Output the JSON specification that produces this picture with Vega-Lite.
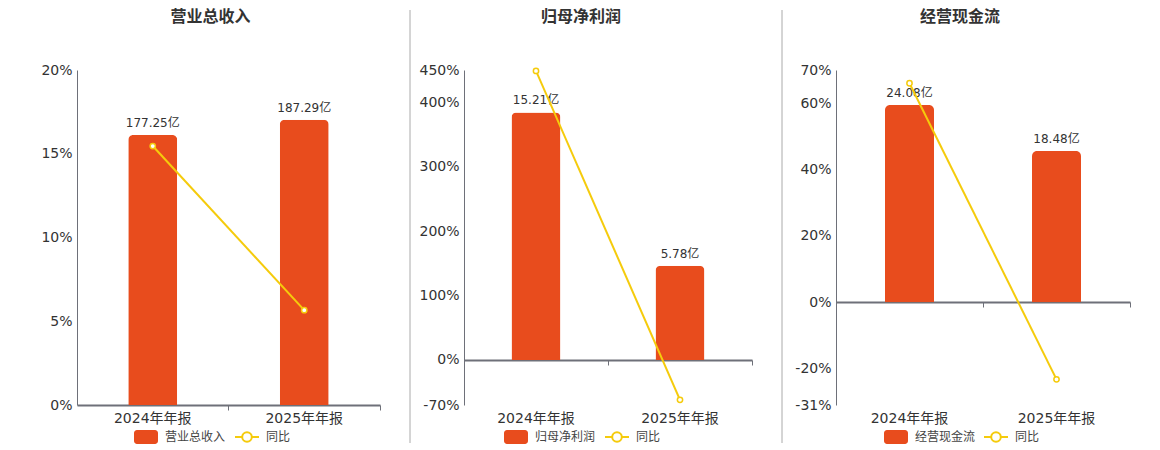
{
  "$schema": "https://vega.github.io/schema/vega-lite/v6.json",
  "autosize": {"type": "none"},
  "padding": {"left": 77, "top": 70, "right": 1083, "bottom": 380},
  "background": "white",
  "datasets": {
    "main": [
      {"panel": "营业总收入", "period": "2024年年报", "amount": 177.25, "yoy": 0.1546},
      {"panel": "营业总收入", "period": "2025年年报", "amount": 187.29, "yoy": 0.0566},
      {"panel": "归母净利润", "period": "2024年年报", "amount": 15.21, "yoy": 4.486},
      {"panel": "归母净利润", "period": "2025年年报", "amount": 5.78, "yoy": -0.62},
      {"panel": "经营现金流", "period": "2024年年报", "amount": 24.08, "yoy": 0.66},
      {"panel": "经营现金流", "period": "2025年年报", "amount": 18.48, "yoy": -0.2326}
    ]
  },
  "data": {"name": "main"},
  "spacing": 30,
  "bounds": "flush",
  "resolve": {"scale": {"color": "independent", "stroke": "independent"}},
  "hconcat": [
    {
      "width": 303,
      "height": 335,
      "title": {"text": "营业总收入", "dx": -18, "offset": 38, "frame": "group"},
      "transform": [{"filter": "datum.panel === '营业总收入'"}],
      "resolve": {"scale": {"y": "independent"}, "axis": {"x": "independent"}},
      "layer": [
        {
          "mark": {"type": "bar", "width": 49, "cornerRadiusTopLeft": 5, "cornerRadiusTopRight": 5},
          "encoding": {
            "x": {"field": "period", "type": "nominal", "sort": null,
              "scale": {"paddingInner": 0, "paddingOuter": 0},
              "axis": {"orient": "bottom", "domain": false, "ticks": false, "labelAngle": 0, "labelPadding": 6, "title": null, "grid": false}},
            "y": {"field": "amount", "type": "quantitative", "scale": {"domain": [0, 220], "nice": false}, "axis": null},
            "color": {"datum": "营业总收入", "scale": {"range": ["#E84C1D"]},
              "legend": {"orient": "none", "legendX": 56, "legendY": 354}}
          }
        },
        {
          "mark": {"type": "text", "baseline": "bottom", "dy": -5, "fontSize": 12, "color": "#333333",
            "text": {"expr": "format(datum.amount, '.2f') + '亿'"}},
          "encoding": {
            "x": {"field": "period", "type": "nominal", "sort": null, "axis": null},
            "y": {"field": "amount", "type": "quantitative", "scale": {"domain": [0, 220], "nice": false}, "axis": null}
          }
        },
        {
          "mark": {"type": "line", "strokeWidth": 2,
            "point": {"filled": false, "fill": "white", "size": 28, "strokeWidth": 1.5}},
          "encoding": {
            "x": {"field": "period", "type": "nominal", "sort": null,
              "axis": {"orient": "bottom", "offset": 0, "labels": false, "domain": true, "domainColor": "#6E7079", "domainWidth": 2,
                "ticks": true, "tickSize": 5, "tickColor": "#6E7079", "bandPosition": 1, "title": null, "grid": false}},
            "y": {"field": "yoy", "type": "quantitative", "scale": {"domain": [0, 0.2], "nice": false},
              "axis": {"orient": "left", "values": [0, 0.05, 0.1, 0.15, 0.2], "format": ".0%", "title": null}},
            "stroke": {"datum": "同比", "scale": {"range": ["#F5CB0C"]},
              "legend": {"orient": "none", "legendX": 157, "legendY": 354,
                "symbolType": "M-1,0H-0.4M0.4,0H1M0.4,0A0.4,0.4,0,1,1,-0.4,0A0.4,0.4,0,1,1,0.4,0",
                "symbolFillColor": "white", "symbolStrokeWidth": 2}}
          }
        }
      ]
    },
    {
      "width": 24,
      "height": 335,
      "data": {"values": [{}]},
      "mark": {"type": "rule", "color": "#AAAAAA", "strokeWidth": 1},
      "encoding": {
        "x": {"datum": 0, "type": "quantitative", "scale": {"domain": [0, 1]}, "axis": null},
        "y": {"datum": -38, "type": "quantitative", "scale": {"domain": [0, 335], "nice": false, "zero": false}, "axis": null},
        "y2": {"datum": 395}
      }
    },
    {
      "width": 288,
      "height": 335,
      "title": {"text": "归母净利润", "dx": -27, "offset": 38, "frame": "group"},
      "transform": [{"filter": "datum.panel === '归母净利润'"}],
      "resolve": {"scale": {"y": "independent"}, "axis": {"x": "independent"}},
      "layer": [
        {
          "mark": {"type": "bar", "width": 49, "cornerRadiusTopLeft": 5, "cornerRadiusTopRight": 5},
          "encoding": {
            "x": {"field": "period", "type": "nominal", "sort": null,
              "scale": {"paddingInner": 0, "paddingOuter": 0},
              "axis": {"orient": "bottom", "domain": false, "ticks": false, "labelAngle": 0, "labelPadding": 6, "title": null, "grid": false}},
            "y": {"field": "amount", "type": "quantitative", "scale": {"domain": [-2.772, 17.82], "nice": false}, "axis": null},
            "color": {"datum": "归母净利润", "scale": {"range": ["#E84C1D"]},
              "legend": {"orient": "none", "legendX": 39, "legendY": 354}}
          }
        },
        {
          "mark": {"type": "text", "baseline": "bottom", "dy": -5, "fontSize": 12, "color": "#333333",
            "text": {"expr": "format(datum.amount, '.2f') + '亿'"}},
          "encoding": {
            "x": {"field": "period", "type": "nominal", "sort": null, "axis": null},
            "y": {"field": "amount", "type": "quantitative", "scale": {"domain": [-2.772, 17.82], "nice": false}, "axis": null}
          }
        },
        {
          "mark": {"type": "line", "strokeWidth": 2,
            "point": {"filled": false, "fill": "white", "size": 28, "strokeWidth": 1.5}},
          "encoding": {
            "x": {"field": "period", "type": "nominal", "sort": null,
              "axis": {"orient": "bottom", "offset": -45, "labels": false, "domain": true, "domainColor": "#6E7079", "domainWidth": 2,
                "ticks": true, "tickSize": 5, "tickColor": "#6E7079", "bandPosition": 1, "title": null, "grid": false}},
            "y": {"field": "yoy", "type": "quantitative", "scale": {"domain": [-0.7, 4.5], "nice": false},
              "axis": {"orient": "left", "values": [-0.7, 0, 1, 2, 3, 4, 4.5], "format": ".0%", "title": null,
                "labelExpr": "replace(datum.label, '−', '-')"}},
            "stroke": {"datum": "同比", "scale": {"range": ["#F5CB0C"]},
              "legend": {"orient": "none", "legendX": 140, "legendY": 354,
                "symbolType": "M-1,0H-0.4M0.4,0H1M0.4,0A0.4,0.4,0,1,1,-0.4,0A0.4,0.4,0,1,1,0.4,0",
                "symbolFillColor": "white", "symbolStrokeWidth": 2}}
          }
        }
      ]
    },
    {
      "width": 24,
      "height": 335,
      "data": {"values": [{}]},
      "mark": {"type": "rule", "color": "#AAAAAA", "strokeWidth": 1},
      "encoding": {
        "x": {"datum": 0, "type": "quantitative", "scale": {"domain": [0, 1]}, "axis": null},
        "y": {"datum": -38, "type": "quantitative", "scale": {"domain": [0, 335], "nice": false, "zero": false}, "axis": null},
        "y2": {"datum": 395}
      }
    },
    {
      "width": 294,
      "height": 335,
      "title": {"text": "经营现金流", "dx": -23, "offset": 38, "frame": "group"},
      "transform": [{"filter": "datum.panel === '经营现金流'"}],
      "resolve": {"scale": {"y": "independent"}, "axis": {"x": "independent"}},
      "layer": [
        {
          "mark": {"type": "bar", "width": 49, "cornerRadiusTopLeft": 5, "cornerRadiusTopRight": 5},
          "encoding": {
            "x": {"field": "period", "type": "nominal", "sort": null,
              "scale": {"paddingInner": 0, "paddingOuter": 0},
              "axis": {"orient": "bottom", "domain": false, "ticks": false, "labelAngle": 0, "labelPadding": 6, "title": null, "grid": false}},
            "y": {"field": "amount", "type": "quantitative", "scale": {"domain": [-12.56, 28.36], "nice": false}, "axis": null},
            "color": {"datum": "经营现金流", "scale": {"range": ["#E84C1D"]},
              "legend": {"orient": "none", "legendX": 47, "legendY": 354}}
          }
        },
        {
          "mark": {"type": "text", "baseline": "bottom", "dy": -5, "fontSize": 12, "color": "#333333",
            "text": {"expr": "format(datum.amount, '.2f') + '亿'"}},
          "encoding": {
            "x": {"field": "period", "type": "nominal", "sort": null, "axis": null},
            "y": {"field": "amount", "type": "quantitative", "scale": {"domain": [-12.56, 28.36], "nice": false}, "axis": null}
          }
        },
        {
          "mark": {"type": "line", "strokeWidth": 2,
            "point": {"filled": false, "fill": "white", "size": 28, "strokeWidth": 1.5}},
          "encoding": {
            "x": {"field": "period", "type": "nominal", "sort": null,
              "axis": {"orient": "bottom", "offset": -103, "labels": false, "domain": true, "domainColor": "#6E7079", "domainWidth": 2,
                "ticks": true, "tickSize": 5, "tickColor": "#6E7079", "bandPosition": 1, "title": null, "grid": false}},
            "y": {"field": "yoy", "type": "quantitative", "scale": {"domain": [-0.31, 0.7], "nice": false},
              "axis": {"orient": "left", "values": [-0.31, -0.2, 0, 0.2, 0.4, 0.6, 0.7], "format": ".0%", "title": null,
                "labelExpr": "replace(datum.label, '−', '-')"}},
            "stroke": {"datum": "同比", "scale": {"range": ["#F5CB0C"]},
              "legend": {"orient": "none", "legendX": 147, "legendY": 354,
                "symbolType": "M-1,0H-0.4M0.4,0H1M0.4,0A0.4,0.4,0,1,1,-0.4,0A0.4,0.4,0,1,1,0.4,0",
                "symbolFillColor": "white", "symbolStrokeWidth": 2}}
          }
        }
      ]
    }
  ],
  "config": {
    "font": "DejaVu Sans, Noto Sans CJK SC",
    "view": {"stroke": null},
    "axis": {
      "labelFont": "DejaVu Sans, Noto Sans CJK SC",
      "labelFontSize": 14,
      "labelColor": "#333333",
      "labelPadding": 5,
      "domainColor": "#6E7079",
      "domainWidth": 1,
      "ticks": false,
      "gridColor": "#E0E6F1",
      "gridWidth": 1
    },
    "axisY": {"grid": true},
    "legend": {
      "title": null,
      "padding": 0,
      "labelFont": "Noto Sans CJK SC",
      "labelFontSize": 12,
      "labelColor": "#444444",
      "labelOffset": 6,
      "symbolSize": 576,
      "symbolType": "M-0.75,-0.58H0.75A0.25,0.25,0,0,1,1,-0.33V0.33A0.25,0.25,0,0,1,0.75,0.58H-0.75A0.25,0.25,0,0,1,-1,0.33V-0.33A0.25,0.25,0,0,1,-0.75,-0.58Z"
    },
    "title": {
      "font": "Noto Sans CJK SC",
      "fontSize": 16,
      "fontWeight": "bold",
      "color": "#333333",
      "anchor": "middle"
    }
  }
}
